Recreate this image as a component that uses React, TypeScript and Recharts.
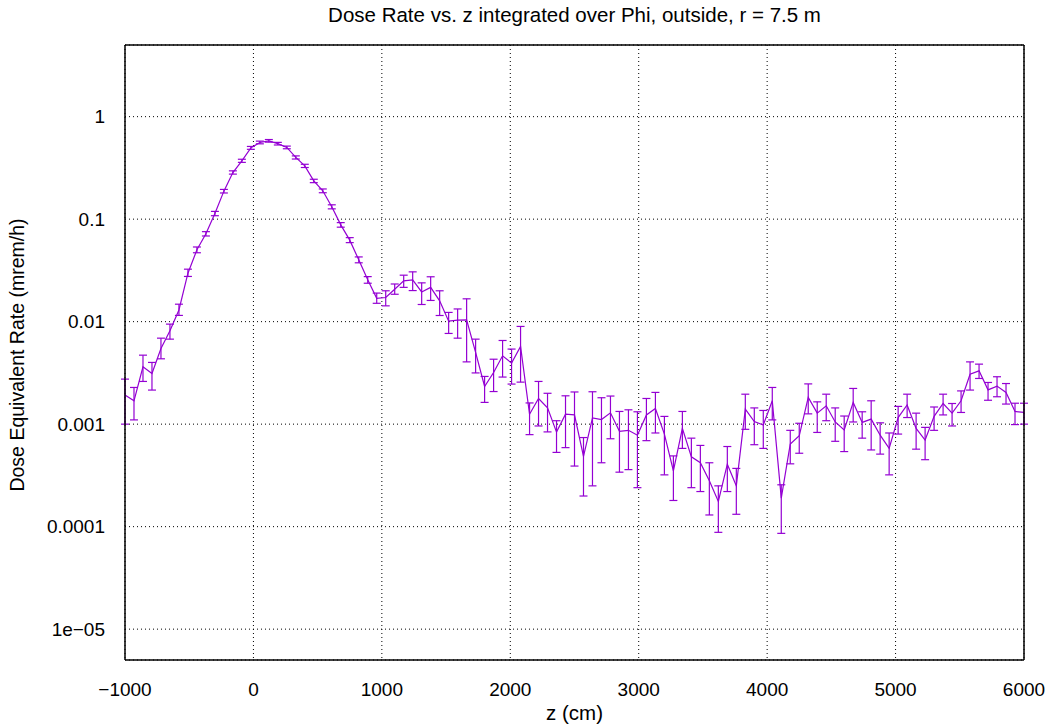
import { CartesianGrid, ErrorBar, Line, LineChart, XAxis, YAxis } from 'recharts';

// z positions of the bins (cm)
const zCm = [
  -1000, -930, -860, -790, -720, -650, -580, -510, -440, -370, -300, -230, -160, -90, -20, 50, 120, 190, 260, 330,
  400, 470, 540, 610, 680, 750, 820, 890, 960, 1030, 1100, 1170, 1240, 1310, 1380, 1450, 1520, 1590, 1660, 1730,
  1800, 1870, 1940, 2010, 2080, 2150, 2220, 2290, 2360, 2430, 2500, 2570, 2640, 2710, 2780, 2850, 2920, 2990, 3060, 3130,
  3200, 3270, 3340, 3410, 3480, 3550, 3620, 3690, 3760, 3830, 3900, 3970, 4040, 4110, 4180, 4250, 4320, 4390, 4460, 4530,
  4600, 4670, 4740, 4810, 4880, 4950, 5020, 5090, 5160, 5230, 5300, 5370, 5440, 5510, 5580, 5650, 5720, 5790, 5860, 5930,
  6000,
];

// dose equivalent rate (mrem/h)
const dose = [
  0.00192, 0.00169, 0.00362, 0.00312, 0.00547, 0.00813, 0.0130, 0.0297, 0.0502, 0.0719,
  0.1136, 0.1876, 0.285, 0.371, 0.496, 0.560, 0.581, 0.545, 0.501, 0.400,
  0.331, 0.236, 0.189, 0.132, 0.0879, 0.0624, 0.0401, 0.0256, 0.0169, 0.0172,
  0.0207, 0.0250, 0.0256, 0.0195, 0.0216, 0.01596, 0.0101, 0.01034, 0.0104, 0.00501,
  0.00233, 0.00319, 0.00464, 0.00394, 0.00573, 0.00125, 0.00178, 0.00144, 0.000836, 0.00125,
  0.00123, 0.000484, 0.00115, 0.00111, 0.00129, 0.00085, 0.00087, 0.00078, 0.00123, 0.00142,
  0.0008, 0.00035, 0.00091, 0.00048, 0.00042, 0.00028, 0.000176, 0.000407, 0.00025, 0.0014,
  0.00106, 0.00098, 0.00169, 0.00019, 0.00064, 0.00077, 0.00182, 0.00128, 0.00151, 0.00105,
  0.00088, 0.00163, 0.00104, 0.00112, 0.00078, 0.00058, 0.00116, 0.00154, 0.00091, 0.0007,
  0.00119, 0.00159, 0.00128, 0.00169, 0.00307, 0.00331, 0.00216, 0.00235, 0.00204, 0.00133,
  0.0013,
];

// lower end of the error bars
const doseLo = [
  0.001, 0.0011, 0.00261, 0.00215, 0.00434, 0.00675, 0.0115, 0.0276, 0.047, 0.0685,
  0.108, 0.18, 0.275, 0.358, 0.48, 0.543, 0.564, 0.529, 0.486, 0.386,
  0.319, 0.227, 0.181, 0.126, 0.0835, 0.059, 0.0375, 0.0237, 0.0151, 0.01426,
  0.0185, 0.0216, 0.0201, 0.0147, 0.0161, 0.01148, 0.00767, 0.0069, 0.00405, 0.00316,
  0.00163, 0.00208, 0.00288, 0.00246, 0.00257, 0.00079, 0.00096, 0.00084, 0.00053, 0.00059,
  0.00039, 0.000199, 0.00025, 0.00042, 0.00072, 0.00034, 0.00036, 0.00024, 0.00069, 0.00082,
  0.00032, 0.00018, 0.00058, 0.00024, 0.00022, 0.00013, 0.000088, 0.00022, 0.000132, 0.00089,
  0.00063, 0.00058, 0.0011, 0.000086, 0.00041, 0.00052, 0.00126, 0.00083, 0.00108, 0.00068,
  0.00054, 0.00105, 0.00073, 0.00056, 0.00051, 0.00032, 0.0008, 0.00116, 0.00057, 0.00045,
  0.00087, 0.00123, 0.00096, 0.0013, 0.00215, 0.00279, 0.00171, 0.00185, 0.00157, 0.00099,
  0.001,
];

// upper end of the error bars
const doseHi = [
  0.00275, 0.00228, 0.00471, 0.004, 0.0069, 0.00946, 0.0148, 0.0325, 0.0535, 0.0755,
  0.119, 0.195, 0.296, 0.384, 0.512, 0.577, 0.598, 0.561, 0.516, 0.414,
  0.343, 0.245, 0.197, 0.138, 0.0925, 0.066, 0.0428, 0.0275, 0.019, 0.02,
  0.0233, 0.0284, 0.0306, 0.0239, 0.0274, 0.02, 0.0123, 0.0133, 0.0167, 0.00675,
  0.00292, 0.0043, 0.00655, 0.0054, 0.00898, 0.00161, 0.00261, 0.002, 0.00108, 0.00189,
  0.00206, 0.00074, 0.00207, 0.00181, 0.00188, 0.00133, 0.00138, 0.00132, 0.00178, 0.00204,
  0.00119, 0.00049, 0.00133, 0.00073, 0.00062, 0.00042, 0.00025, 0.000605, 0.00037, 0.00196,
  0.00144, 0.00136, 0.00228, 0.000256, 0.00087, 0.00102, 0.00247, 0.00165, 0.00196, 0.00144,
  0.0012, 0.00223, 0.00132, 0.00169, 0.00103, 0.00082, 0.00149, 0.00196, 0.00128, 0.00093,
  0.00147, 0.00196, 0.00159, 0.00211, 0.00405, 0.00385, 0.00255, 0.0029, 0.00249, 0.0016,
  0.0016,
];

const xTicks = [-1000, 0, 1000, 2000, 3000, 4000, 5000, 6000];
const xTickLabels = ['\u22121000', '0', '1000', '2000', '3000', '4000', '5000', '6000'];
const yTicks = [1e-5, 1e-4, 1e-3, 1e-2, 0.1, 1];
const yTickLabels = ['1e\u221205', '0.0001', '0.001', '0.01', '0.1', '1'];
const yMinorTicks = [1e-6, 1e-5, 1e-4, 1e-3, 1e-2, 0.1, 1]
  .flatMap((d) => [2, 3, 4, 5, 6, 7, 8, 9].map((m) => m * d))
  .filter((v) => v >= 5e-6 && v <= 5);

const data = zCm.map((z, i) => ({
  z,
  dose: dose[i],
  err: [dose[i] - doseLo[i], doseHi[i] - dose[i]],
}));

const COLOR = '#9400d3';
const FONT = '"Liberation Sans", Arial, sans-serif';
const tickStyle = { fontSize: 19, fill: '#000', fontFamily: FONT };
const X_DOMAIN: [number, number] = [-1000, 6000];
const Y_DOMAIN: [number, number] = [5e-6, 5];

export default function App() {
  return (
    <div style={{ position: 'relative', width: 1053, height: 727, background: '#fff', fontFamily: FONT }}>
      <style>{'body{margin:0}'}</style>
      <div style={{ position: 'absolute', left: 125, width: 899, top: 3, textAlign: 'center', fontSize: 20.5 }}>
        Dose Rate vs. z integrated over Phi, outside, r = 7.5 m
      </div>
      <div style={{ position: 'absolute', left: 125, width: 899, top: 701, textAlign: 'center', fontSize: 20.5 }}>
        z (cm)
      </div>
      <div
        style={{
          position: 'absolute',
          left: 17,
          top: 355,
          transform: 'translate(-50%, -50%) rotate(-90deg)',
          whiteSpace: 'nowrap',
          fontSize: 19.5,
        }}
      >
        Dose Equivalent Rate (mrem/h)
      </div>
      <LineChart width={1053} height={727} data={data} margin={{ top: 45, right: 29, left: 8, bottom: 27 }}>
        <CartesianGrid
          xAxisId="x"
          yAxisId="y"
          stroke="#000"
          strokeDasharray="1 3"
          strokeWidth={1}
        />
        <XAxis
          xAxisId="x"
          dataKey="z"
          type="number"
          domain={X_DOMAIN}
          ticks={xTicks}
          allowDataOverflow
          tickFormatter={(v) => xTickLabels[xTicks.indexOf(v)] ?? String(v)}
          tick={tickStyle}
          tickLine={false}
          axisLine={false}
          tickMargin={17}
          height={40}
        />
        <XAxis xAxisId="xb" dataKey="z" type="number" domain={X_DOMAIN} ticks={xTicks} orientation="bottom" mirror
          allowDataOverflow tick={false} tickSize={10} height={1} stroke="#000" strokeWidth={1.5} />
        <XAxis xAxisId="xt" dataKey="z" type="number" domain={X_DOMAIN} ticks={xTicks} orientation="top" mirror
          allowDataOverflow tick={false} tickSize={10} height={1} stroke="#000" strokeWidth={1.5} />
        <YAxis
          yAxisId="y"
          scale="log"
          type="number"
          domain={Y_DOMAIN}
          ticks={yTicks}
          allowDataOverflow
          tickFormatter={(v) => yTickLabels[yTicks.indexOf(v)] ?? String(v)}
          tick={tickStyle}
          tickLine={false}
          axisLine={false}
          tickMargin={14}
          width={117}
        />
        <YAxis yAxisId="yl" scale="log" type="number" domain={Y_DOMAIN} ticks={yTicks} allowDataOverflow mirror
          orientation="left" tick={false} tickSize={10} width={1} stroke="#000" strokeWidth={1.5} />
        <YAxis yAxisId="ylm" scale="log" type="number" domain={Y_DOMAIN} ticks={yMinorTicks} allowDataOverflow mirror
          orientation="left" tick={false} tickSize={5} width={1} axisLine={false} stroke="#000" />
        <YAxis yAxisId="yr" scale="log" type="number" domain={Y_DOMAIN} ticks={yTicks} allowDataOverflow mirror
          orientation="right" tick={false} tickSize={10} width={1} stroke="#000" strokeWidth={1.5} />
        <YAxis yAxisId="yrm" scale="log" type="number" domain={Y_DOMAIN} ticks={yMinorTicks} allowDataOverflow mirror
          orientation="right" tick={false} tickSize={5} width={1} axisLine={false} stroke="#000" />
        <Line
          xAxisId="x"
          yAxisId="y"
          type="linear"
          dataKey="dose"
          stroke={COLOR}
          strokeWidth={1.2}
          dot={false}
          isAnimationActive={false}
        >
          <ErrorBar dataKey="err" direction="y" width={4} stroke={COLOR} strokeWidth={1.2} isAnimationActive={false} />
        </Line>
      </LineChart>
    </div>
  );
}
